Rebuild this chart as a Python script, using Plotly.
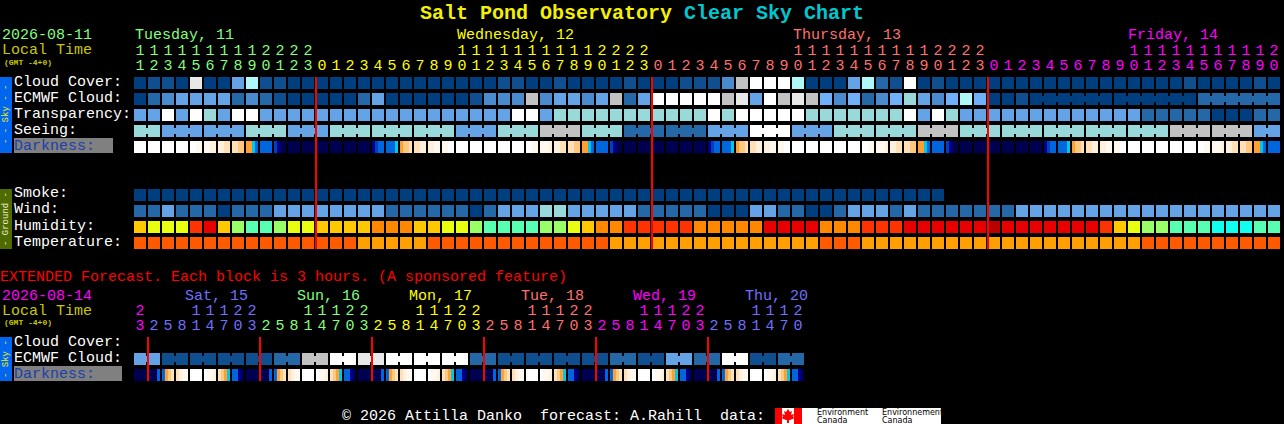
import plotly.graph_objects as go

W, H = 1284, 424
FONT = "Liberation Mono"

# ---------- palettes ----------
sky_palette = ["#003f7f", "#0f4f90", "#2568a8", "#4a8bd0", "#63a3e6", "#70b0f8",
               "#99d9d9", "#b0f8f8", "#c2c2c2", "#e8e8e8", "#ffffff"]
humidity_palette = ["#b80000", "#e80000", "#ff3300", "#ff8800", "#ffc800",
                    "#e8ff10", "#99ff66", "#58ffb0", "#10ffee"]
temperature_palette = ["#ff5a00", "#ffa000"]
darkness_palette = ["#ffffff", "#fff8ee", "#fff0dd", "#ffe0b8", "#ffc880", "#ffa030",
                    "#00c8e8", "#0066e0", "#0040c0", "#000090", "#000050"]

# ---------- main forecast (one value per hour) ----------
hours_main = list(range(11, 24)) + list(range(24)) + list(range(24)) + list(range(21))
cloud_cover = [0,1,1,0,9,0,0,4,7,1,1,0,0, 0,0,0,0,0,0,0,0, 0,0,0,0,0, 1,1,0,0,1,0,0,0,0,1,0,0,0,
               1,1,1,3,8,10,10,10,7,0,0,0,4,7,2,1,10,0,1,
               0,0,0,0,0,0,0,0,0,0,0,0,0,0,0,0,0, 1,0,0,0,0,1,0]
ecmwf_cloud = [0,2,3,4,4,4,4,2,3,2,1,0,0,0,0,0,2,4,0,0,0, 0,0,0,1,3,3,3,8,3,4,4,3,4,8,2,4,
               10,10,10,10,10,8,9,4,10,8,9,8,5,3,5,2,3,5,6,4,3,5,7,5,0,0,1,
               0,0,0,0,0,0, 0,0,0,0,0,0, 2,2,2,2,2,2]
ecmwf_spans = [1] * 64 + [6, 6, 6]
transparency = [4,4,10,4,10,6,4,10,10,4,4,4,4,4,4,4,4,4,4,4,4, 4,4,4,4,4,4,10,10,4,
                6,6,6,6,6,6,6,6,6,6,6,10,6,10,10,10,10,10,6,6,6,6,
                6,6,6,10,4,10,6,4,4,4,4,4,4,4,4,4,4,4,4,4,2,2,2,2,2,0,0,0,2,2]
seeing = [6, 4,4,6,4,6,6,6,4,6,8,6,2,2,4,10,4,6,6,8,6,6,6,6,6,8,8, 4]
seeing_spans = [2] + [3] * 26 + [2]
darkness = ["0000","0000","0000","0000","0011","1122","2233","3344","5567","7777","89aa",
            "aaaa","aaaa","aaaa","aaaa","aaaa","aaaa","9877","7776","5443","3322",
            "2211","1100","0000","0000","0000","0000","0000","0011","1112","2233","3344","5567",
            "7777","89aa","aaaa","aaaa","aaaa","aaaa","aaaa","aaaa","9877","7776","5443","3322",
            "2211","1100","0000","0000","0000","0000","0000","0011","1112","2233","3344","5567",
            "7777","89aa","aaaa","aaaa","aaaa","aaaa","aaaa","aaaa","9877","7776","5443","3322",
            "2211","1100","0000","0000","0000","0000","0000","0011","1112","2233","3344","5567","7777"]
smoke = [0] * 58
wind = [2,2,4,2,2,2,0,2,2,2,4,4,4,4,4,4,4,4,2,2,2, 2,2,2,0,2,4,4,4,6,6,4,4,4,4,4,2,2,2,2,2,0,0,0,4,4,2,2,0,0,2,4,
        4,4,2,4,2,2,2,2,2,2,2,4,4,4,4,4,4,4,4,4,4,4,4,4,4,4,4,4,4,4][:82]
humidity = [4,5,5,5,2,1,4,6,7,7,6,5,5,4,4,4,4,3,3,3,4, 4,5,5,6,7,7,7,7,6,6,5,4,3,3,2,2,2,2,2,3,3,3,3,3,1,1,1,1,3,3,3,
            2,2,2,1,1,1,1,1,1,0,1,1,1,1,1,1,1,2,4,5,6,6,7,7,7,8,8,8,7,7]
temperature = [0]*16 + [1]*5 + [0]*13 + [1]*15 + [0]*3 + [1]*20 + [0]*10

# ---------- extended forecast (one value per 3 hour block) ----------
hours_ext = [23] + [2,5,8,11,14,17,20,23]*5 + [2,5,8,11,14,17,20]
ext_ecmwf = [4,1,1,1,1,2,8,10,9,10,10,10,2,1,1,1,1,2,1,4,2,10,1,2]
ext_ecmwf_spans = [2] * 24
ext_darkness = ["aaaa","aaa7","7543","3211","0000","0112","3456","779a"] * 6

# ---------- day labels ----------
main_days = [("Tuesday, 11", 135, "#80ff80"), ("Wednesday, 12", 457, "#ffff00"),
             ("Thursday, 13", 793, "#ff7070"), ("Friday, 14", 1128, "#ff00ff")]
main_day_cols = [(0, "#80ff80"), (13, "#ffff00"), (37, "#ff7070"), (61, "#ff00ff")]
ext_days = [("Sat, 15", 185, "#7070ff"), ("Sun, 16", 297, "#80ff80"), ("Mon, 17", 409, "#ffff00"),
            ("Tue, 18", 521, "#ff7070"), ("Wed, 19", 633, "#ff00ff"), ("Thu, 20", 745, "#7070ff")]
ext_day_cols = [(0, "#ff00ff"), (1, "#7070ff"), (9, "#80ff80"), (17, "#ffff00"),
                (25, "#ff7070"), (33, "#ff00ff"), (41, "#7070ff")]
main_midnights = [13, 37, 61]
ext_midnights = [1, 9, 17, 25, 33, 41]
main_rows = ["Cloud Cover:", "ECMWF Cloud:", "Transparency:", "Seeing:"]
ground_rows = ["Smoke:", "Wind:", "Humidity:", "Temperature:"]

for name, arr in [("cloud", cloud_cover), ("ecmwf", ecmwf_cloud), ("transp", transparency),
                  ("dark", darkness), ("wind", wind), ("hum", humidity), ("temp", temperature)]:
    assert len(arr) == 82, (name, len(arr))

# ---------- layout helpers ----------
CELL_W = 12 / 14
CELL_H = 12 / 16
GAP = 2 / 14
SLICE = 3 / 14


def col_of(px):
    return (px - 140) / 14


def row_of(py):
    return (py - 83) / 16


fig = go.Figure()


def add_cells(row, values, palette):
    fig.add_bar(x=list(range(len(values))), y=[CELL_H] * len(values),
                base=[row - CELL_H / 2] * len(values), width=CELL_W,
                marker=dict(color=[palette[v] for v in values], line_width=0),
                hoverinfo="skip")


def add_bridges(row, values, spans, palette):
    xs, cs = [], []
    k = 0
    for s in spans:
        for j in range(s - 1):
            xs.append(k + j + 0.5)
            cs.append(palette[values[k + j]])
        k += s
    fig.add_bar(x=xs, y=[6 / 16] * len(xs), base=[row - 3 / 16] * len(xs), width=GAP,
                marker=dict(color=cs, line_width=0), hoverinfo="skip")


def add_darkness(row, cells):
    xs, cs = [], []
    for k, cell in enumerate(cells):
        for j, ch in enumerate(cell):
            xs.append(k + (j - 1.5) * SLICE)
            cs.append(darkness_palette[int(ch, 16)])
    fig.add_bar(x=xs, y=[CELL_H] * len(xs), base=[row - CELL_H / 2] * len(xs), width=SLICE,
                marker=dict(color=cs, line_width=0), hoverinfo="skip")


def expand(values, spans):
    out = []
    for v, s in zip(values, spans):
        out += [v] * s
    return out


seeing_cols = expand(seeing, seeing_spans)
ext_cols = expand(ext_ecmwf, ext_ecmwf_spans)

add_cells(0, cloud_cover, sky_palette)
add_cells(1, ecmwf_cloud, sky_palette)
add_bridges(1, ecmwf_cloud, ecmwf_spans, sky_palette)
add_cells(2, transparency, sky_palette)
add_cells(3, seeing_cols, sky_palette)
add_bridges(3, seeing_cols, seeing_spans, sky_palette)
add_darkness(4, darkness)
add_cells(7, smoke, sky_palette)
add_cells(8, wind, sky_palette)
add_cells(9, humidity, humidity_palette)
add_cells(10, temperature, temperature_palette)
add_cells(row_of(359), ext_cols, sky_palette)
add_bridges(row_of(359), ext_cols, ext_ecmwf_spans, sky_palette)
add_darkness(row_of(375), ext_darkness)


# red midnight lines
def add_lines(cols, top, bottom):
    xs, ys = [], []
    for c in cols:
        xs += [c - 0.43, c - 0.43, None]
        ys += [row_of(top), row_of(bottom), None]
    fig.add_scatter(x=xs, y=ys, mode="lines", line=dict(color="#ff0000", width=2), hoverinfo="skip")


add_lines(main_midnights, 77, 249)
add_lines(ext_midnights, 337, 381)


# hour digits
def add_hours(hours, day_cols, tens_py, ones_py):
    colours = []
    for k in range(len(hours)):
        c = day_cols[0][1]
        for start, col in day_cols:
            if k >= start:
                c = col
        colours.append(c)
    tens_x = [k for k, h in enumerate(hours) if h >= 10]
    fig.add_scatter(x=tens_x, y=[row_of(tens_py)] * len(tens_x), mode="text",
                    text=[str(hours[k] // 10) for k in tens_x], textposition="middle center",
                    textfont=dict(family=FONT, size=15, color=[colours[k] for k in tens_x]),
                    hoverinfo="skip")
    fig.add_scatter(x=list(range(len(hours))), y=[row_of(ones_py)] * len(hours), mode="text",
                    text=[str(h % 10) for h in hours], textposition="middle center",
                    textfont=dict(family=FONT, size=15, color=colours), hoverinfo="skip")


add_hours(hours_main, main_day_cols, 51, 66)
add_hours(hours_ext, ext_day_cols, 311, 326)

annotations = []
shapes = []


def label(px, py, text, color, size=15, weight="normal", anchor="left", angle=0, family=FONT):
    annotations.append(dict(xref="paper", yref="paper", x=px / W, y=1 - py / H, text=text,
                            showarrow=False, xanchor=anchor, yanchor="middle", borderpad=0,
                            textangle=angle,
                            font=dict(family=family, size=size, color=color, weight=weight)))


def rect(x0, y0, x1, y1, color):
    shapes.append(dict(type="rect", xref="paper", yref="paper", x0=x0 / W, x1=x1 / W,
                       y0=1 - y0 / H, y1=1 - y1 / H, fillcolor=color, line_width=0, layer="below"))


# Title
label(419, 13, "Salt Pond Observatory", "#f5f000", size=20, weight="bold")
label(683, 13, "Clear Sky Chart", "#00c8d0", size=20, weight="bold")

# Left heads
label(1, 36, "2026-08-11", "#80ff80")
label(1, 51, "Local Time", "#c8c800")
label(3, 62, "(GMT -4+0)", "#c8c800", size=8, weight="bold")
for text, px, colour in main_days:
    label(px - 1, 36, text, colour)

# Row labels
for text, py in zip(main_rows, [82, 98, 114, 130]):
    label(13, py, text, "#ffffff")
rect(14, 138, 113, 153, "#808080")
label(13, 146, "Darkness:", "#1c3fa8")
for text, py in zip(ground_rows, [194, 210, 226, 242]):
    label(13, py, text, "#ffffff")

# Side boxes
rect(0, 77, 12, 153, "#0066f0")
label(6, 115, "- - Sky - -", "#f0f000", size=9, anchor="center", angle=-90)
rect(0, 189, 12, 249, "#4f6a00")
label(6, 219, "- Ground -", "#f0f0d0", size=9, anchor="center", angle=-90)

# Extended
label(-1, 277, "EXTENDED Forecast. Each block is 3 hours. (A sponsored feature)", "#ff0000")
label(1, 296, "2026-08-14", "#ff00ff")
label(1, 311, "Local Time", "#c8c800")
label(3, 322, "(GMT -4+0)", "#c8c800", size=8, weight="bold")
for text, px, colour in ext_days:
    label(px - 1, 296, text, colour)
label(13, 342, "Cloud Cover:", "#ffffff")
label(13, 358, "ECMWF Cloud:", "#ffffff")
rect(14, 366, 122, 381, "#808080")
label(13, 374, "Darkness:", "#1c3fa8")
rect(0, 337, 12, 381, "#0066f0")
label(6, 359, "- Sky -", "#f0f000", size=9, anchor="center", angle=-90)

# Footer
label(341, 416, "\u00a9 2026 Attilla Danko\u00a0\u00a0forecast: A.Rahill\u00a0\u00a0data:", "#ffffff")
rect(775, 408, 941, 424, "#ffffff")
rect(775, 408, 782, 424, "#ff0000")
rect(794, 408, 802, 424, "#ff0000")
leaf = [(788, 409), (790, 412), (792, 411), (791, 415), (794, 414), (793, 417), (795, 418),
        (790, 420), (789, 420), (789, 423), (787, 423), (787, 420), (786, 420), (781, 418),
        (783, 417), (782, 414), (785, 415), (784, 411), (786, 412)]
path = "M " + " L ".join(f"{x / W:.5f},{1 - y / H:.5f}" for x, y in leaf) + " Z"
shapes.append(dict(type="path", xref="paper", yref="paper", path=path, fillcolor="#ff0000", line_width=0))
for px, py, text in [(816, 412.5, "Environment"), (816, 420.5, "Canada"),
                     (881, 412.5, "Environnement"), (881, 420.5, "Canada")]:
    label(px, py, text, "#000000", size=8, family="DejaVu Sans")

fig.update_layout(
    width=W, height=H, margin=dict(l=0, r=0, t=0, b=0, pad=0), autosize=False,
    paper_bgcolor="#000000", plot_bgcolor="#000000", showlegend=False, barmode="overlay",
    bargap=0, hovermode=False,
    xaxis=dict(range=[col_of(0), col_of(W)], visible=False, fixedrange=True),
    yaxis=dict(range=[row_of(H), row_of(0)], visible=False, fixedrange=True),
    annotations=annotations, shapes=shapes,
)

fig.write_html("out.html", config=dict(displayModeBar=False),
               post_script="document.documentElement.style.overflow='hidden';"
                           "document.body.style.margin='0';document.body.style.background='#000';")
